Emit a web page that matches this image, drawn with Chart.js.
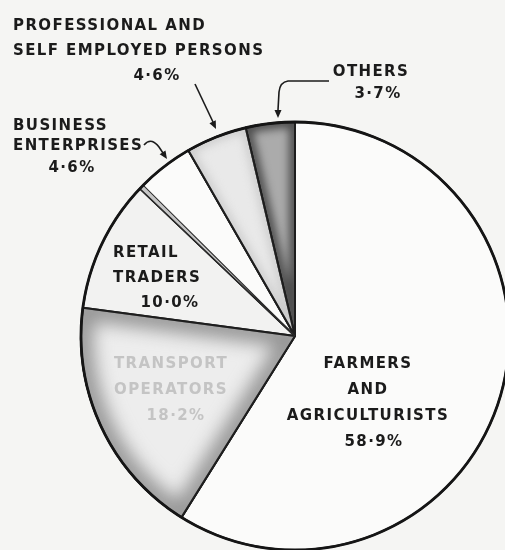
<!DOCTYPE html>
<html>
<head>
<meta charset="utf-8">
<script src="https://cdn.jsdelivr.net/npm/chart.js@4/dist/chart.umd.min.js"></script>
<style>
  html, body { margin: 0; padding: 0; background: #f5f5f3; overflow: hidden; }
  #wrap { width: 520px; height: 560px; }
</style>
</head>
<body>
<div id="wrap"><canvas id="occupationPie" width="520" height="560"></canvas></div>
<script>
// Data (clockwise from 12 o'clock)
const categories = [
  ['FARMERS', 'AND', 'AGRICULTURISTS'],
  ['TRANSPORT', 'OPERATORS'],
  ['RETAIL', 'TRADERS'],
  ['BUSINESS', 'ENTERPRISES'],
  ['PROFESSIONAL AND', 'SELF EMPLOYED PERSONS'],
  ['OTHERS']
];
const shares = [58.9, 18.2, 10.0, 4.6, 4.6, 3.7];

const sliceColors = ['#fbfbfa', '#ededed', '#f2f2f1', '#fbfbfa', '#e9e9e9', '#ababab'];

// where each label block sits on the page (baseline of first line)
const labelLayout = [
  { x: 368, y: 368, align: 'center', gap: 26, pctX: 374, color: '#1b1b1b' },
  { x: 171, y: 368, align: 'center', gap: 26, pctX: 176, color: '#c4c4c4' },
  { x: 113, y: 257, align: 'left', gap: 25, pctX: 170, color: '#1b1b1b' },
  { x: 13, y: 130, align: 'left', gap: 20, pctX: 72, color: '#1b1b1b' },
  { x: 13, y: 30, align: 'left', gap: 25, pctX: 157, color: '#1b1b1b' },
  { x: 371, y: 76, align: 'center', gap: 22, pctX: 378, color: '#1b1b1b' }
];

const formatShare = (v) => v.toFixed(1).replace('.', '\u00B7') + '%';

const arcPath = (arc) => {
  const p = new Path2D();
  p.moveTo(arc.x, arc.y);
  p.arc(arc.x, arc.y, arc.outerRadius, arc.startAngle, arc.endAngle);
  p.closePath();
  return p;
};

// soft grey shading along the inside edges of a slice
const innerShade = (ctx, arc, color, width, blur) => {
  const p = arcPath(arc);
  ctx.save();
  ctx.clip(p);
  ctx.filter = 'blur(' + blur + 'px)';
  ctx.strokeStyle = color;
  ctx.lineWidth = width;
  ctx.stroke(p);
  ctx.restore();
  ctx.save();
  ctx.strokeStyle = '#1e1e1e';
  ctx.lineWidth = 2;
  ctx.lineJoin = 'round';
  ctx.stroke(p);
  ctx.restore();
};

const arrowHead = (ctx, x, y, angle) => {
  ctx.save();
  ctx.translate(x, y);
  ctx.rotate(angle);
  ctx.beginPath();
  ctx.moveTo(0, 0);
  ctx.lineTo(-8, -3.5);
  ctx.lineTo(-8, 3.5);
  ctx.closePath();
  ctx.fill();
  ctx.restore();
};

const annotationPlugin = {
  id: 'annotations',
  afterDatasetsDraw(chart) {
    const ctx = chart.ctx;
    const arcs = chart.getDatasetMeta(0).data;

    innerShade(ctx, arcs[1], '#959595', 24, 9);
    innerShade(ctx, arcs[5], '#4e4e4e', 12, 4);
    innerShade(ctx, arcs[4], '#c8c8c8', 8, 5);

    // thin double edge between retail and business
    const b = arcs[3];
    ctx.save();
    ctx.beginPath();
    ctx.moveTo(b.x, b.y);
    ctx.arc(b.x, b.y, b.outerRadius, b.startAngle, b.startAngle + 0.022);
    ctx.closePath();
    ctx.fillStyle = '#c6c6c6';
    ctx.fill();
    ctx.strokeStyle = '#2a2a2a';
    ctx.lineWidth = 1.1;
    ctx.stroke();
    ctx.restore();

    // heavier outer rim
    ctx.save();
    ctx.beginPath();
    ctx.arc(b.x, b.y, b.outerRadius, 0, Math.PI * 2);
    ctx.strokeStyle = '#151515';
    ctx.lineWidth = 2.8;
    ctx.stroke();
    ctx.restore();

    // labels
    ctx.save();
    ctx.font = 'bold 15px "DejaVu Sans"';
    ctx.letterSpacing = '1.4px';
    ctx.textBaseline = 'alphabetic';
    labelLayout.forEach(function(pos, i) {
      ctx.fillStyle = pos.color;
      ctx.textAlign = pos.align;
      let y = pos.y;
      categories[i].forEach(function(line) {
        ctx.fillText(line, pos.x, y);
        y += pos.gap;
      });
      ctx.textAlign = 'center';
      ctx.fillText(formatShare(shares[i]), pos.pctX, y + (i === 3 ? 2 : 0));
    });
    ctx.restore();

    // leader arrows
    ctx.save();
    ctx.strokeStyle = '#1b1b1b';
    ctx.fillStyle = '#1b1b1b';
    ctx.lineWidth = 1.6;

    ctx.beginPath();
    ctx.moveTo(195, 84);
    ctx.lineTo(213, 122);
    ctx.stroke();
    arrowHead(ctx, 216, 129, Math.atan2(38, 18));

    ctx.beginPath();
    ctx.moveTo(329, 81);
    ctx.lineTo(288, 81);
    ctx.quadraticCurveTo(280, 82, 279, 92);
    ctx.lineTo(278, 110);
    ctx.stroke();
    arrowHead(ctx, 278, 118, Math.PI / 2);

    ctx.beginPath();
    ctx.moveTo(144, 145);
    ctx.bezierCurveTo(150, 138, 155, 142, 159, 147);
    ctx.lineTo(163, 153);
    ctx.stroke();
    arrowHead(ctx, 167, 159, Math.atan2(6, 4));
    ctx.restore();
  }
};

const occupationChart = new Chart(document.querySelector('#occupationPie'), {
  type: 'pie',
  data: {
    labels: categories,
    datasets: [{
      data: shares,
      backgroundColor: sliceColors,
      borderColor: '#1e1e1e',
      borderWidth: 2
    }]
  },
  options: {
    responsive: false,
    animation: false,
    rotation: 0,
    layout: {
      padding: { left: 80, right: 10, top: 121, bottom: 9 }
    },
    plugins: {
      legend: { display: false },
      tooltip: { enabled: false }
    }
  },
  plugins: [annotationPlugin]
});
</script>
</body>
</html>
